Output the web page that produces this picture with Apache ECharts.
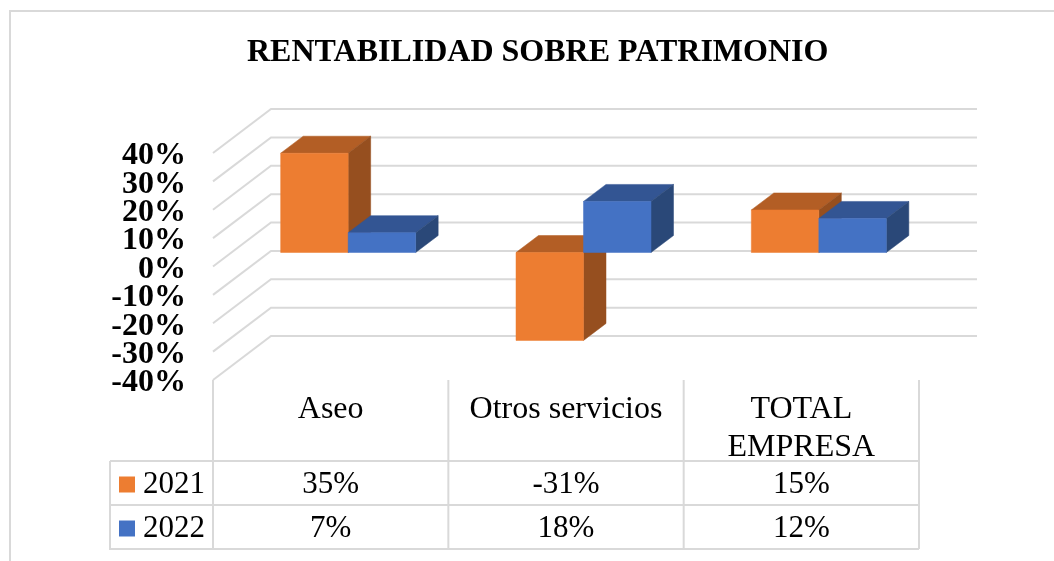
<!DOCTYPE html>
<html><head><meta charset="utf-8">
<style>html,body{margin:0;padding:0;background:#fff}#c{width:1054px;height:561px}</style>
<script src="https://cdn.jsdelivr.net/npm/echarts@6/dist/echarts.min.js"></script>
</head><body><div id="c"></div>
<script>
const titleText = 'RENTABILIDAD SOBRE PATRIMONIO';
const categories = ['Aseo', 'Otros servicios', 'TOTAL\nEMPRESA'];
const seriesNames = ['2021', '2022'];
const values2021 = [35, -31, 15];
const values2022 = [7, 18, 12];
const yTicks = [-40, -30, -20, -10, 0, 10, 20, 30, 40];

const FONT = '"Liberation Serif", serif';
const LINE = '#d9d9d9';
const ORANGE = ['#ed7d31', '#b35e25', '#964f1f'];
const BLUE = ['#4472c4', '#335593', '#2a4878'];
const WALL_DX = 58, WALL_DY = 44;
const FRONT_DX = 17.5, FRONT_DY = 14;
const BAR_W = 67.5, BAR_DX = 22.5, BAR_DY = 17;
const ROW_Y = [485, 529];

function lineShape(pts) {
  return { type: 'polyline', shape: { points: pts }, silent: true,
    style: { stroke: LINE, lineWidth: 2, fill: null } };
}
function renderWall(params, api) {
  const v = api.value(0);
  const a = api.coord([0, v]);
  const left = params.coordSys.x, right = params.coordSys.x + params.coordSys.width;
  return { type: 'group', children: [
    lineShape([[left, a[1]], [left + WALL_DX, a[1] - WALL_DY], [right + WALL_DX, a[1] - WALL_DY]]),
    { type: 'text', silent: true, style: { text: v + '%', x: left - 27, y: a[1] + 3, align: 'right', verticalAlign: 'middle',
      font: 'bold 32px ' + FONT, fill: '#000' } }
  ] };
}
function barRenderer(cols, side) {
  return function (params, api) {
    const p = api.coord([api.value(0), api.value(1)]);
    const z = api.coord([api.value(0), 0]);
    const xa = p[0] + FRONT_DX + (side < 0 ? -BAR_W : 0);
    const xb = xa + BAR_W;
    const y0 = z[1] - FRONT_DY, y1 = p[1] - FRONT_DY;
    const top = Math.min(y0, y1), bot = Math.max(y0, y1);
    const poly = (pts, c) => ({ type: 'polygon', shape: { points: pts }, style: { fill: c, stroke: c, lineWidth: 0.5 } });
    return { type: 'group', children: [
      poly([[xa, top], [xa + BAR_DX, top - BAR_DY], [xb + BAR_DX, top - BAR_DY], [xb, top]], cols[1]),
      poly([[xb, top], [xb + BAR_DX, top - BAR_DY], [xb + BAR_DX, bot - BAR_DY], [xb, bot]], cols[2]),
      poly([[xa, top], [xb, top], [xb, bot], [xa, bot]], cols[0])
    ] };
  };
}
function renderTable(params, api) {
  const i = api.value(0);
  const x = api.coord([i, 0])[0];
  const hw = api.size([1, 0])[0] / 2;
  const g = params.coordSys;
  const kids = [];
  if (i === 0) {
    kids.push(lineShape([[g.x, g.y + g.height], [g.x, 549]]));
    kids.push(lineShape([[110, 461], [g.x + g.width, 461]]));
    kids.push(lineShape([[110, 505], [g.x + g.width, 505]]));
    kids.push(lineShape([[110, 461], [110, 549], [g.x + g.width, 549]]));
  }
  kids.push(lineShape([[x + hw, g.y + g.height], [x + hw, 549]]));
  [api.value(1), api.value(2)].forEach((v, r) => kids.push({
    type: 'text', style: { text: v + '%', x: x, y: ROW_Y[r], align: 'center', verticalAlign: 'middle',
      font: '31px ' + FONT, fill: '#000' }
  }));
  return { type: 'group', children: kids };
}

const chart = echarts.init(document.getElementById('c'), null, { renderer: 'canvas' });
chart.setOption({
  animation: false,
  backgroundColor: '#fff',
  title: { text: titleText, left: 247, top: 37, padding: 0,
    textStyle: { fontFamily: FONT, fontSize: 32, fontWeight: 'bold', color: '#000' } },
  legend: { orient: 'vertical', left: 119, top: 467, padding: 0, itemWidth: 16, itemHeight: 16, itemGap: 9,
    data: seriesNames, selectedMode: false, icon: 'rect',
    textStyle: { fontFamily: FONT, fontSize: 31, color: '#000', lineHeight: 35, padding: [0, 0, 0, 3] } },
  graphic: [{ type: 'polyline', silent: true, shape: { points: [[10, 561], [10, 11], [1054, 11]] },
    style: { stroke: LINE, lineWidth: 2, fill: null } }],
  grid: { left: 213, top: 153, width: 706, height: 227, containLabel: false },
  xAxis: { type: 'category', data: categories, position: 'bottom',
    axisLine: { show: false, onZero: false }, axisTick: { show: false }, splitLine: { show: false },
    axisLabel: { interval: 0, margin: 11, fontFamily: FONT, fontSize: 32, color: '#000', lineHeight: 38 } },
  yAxis: { type: 'value', min: -40, max: 40, interval: 10,
    axisLine: { show: false }, axisTick: { show: false }, splitLine: { show: false },
    axisLabel: { show: false } },
  series: [
    { type: 'custom', name: 'walls', silent: true, z: 1, clip: false, encode: { y: 0 },
      data: yTicks.map(v => [v]), renderItem: renderWall },
    { type: 'custom', name: 'table', silent: true, z: 1, clip: false, encode: { x: 0, y: 1 },
      data: categories.map((c, i) => [i, values2021[i], values2022[i]]), renderItem: renderTable },
    { type: 'custom', name: seriesNames[0], z: 3, clip: false, encode: { x: 0, y: 1 },
      itemStyle: { color: ORANGE[0] },
      data: values2021.map((v, i) => [i, v]), renderItem: barRenderer(ORANGE, -1) },
    { type: 'custom', name: seriesNames[1], z: 4, clip: false, encode: { x: 0, y: 1 },
      itemStyle: { color: BLUE[0] },
      data: values2022.map((v, i) => [i, v]), renderItem: barRenderer(BLUE, 1) }
  ]
});
</script></body></html>
